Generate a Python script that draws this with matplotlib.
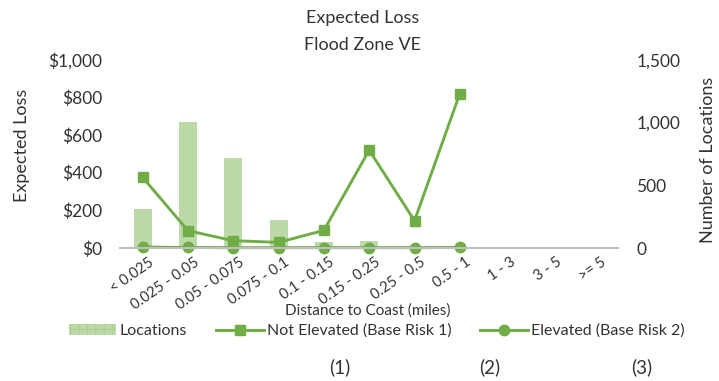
import numpy as np
import matplotlib
matplotlib.use('Agg')
import matplotlib.pyplot as plt
from matplotlib.patches import Patch
from matplotlib.ticker import FuncFormatter

plt.rcParams['font.family'] = ['Lato', 'DejaVu Sans']
plt.rcParams['hatch.linewidth'] = 0.5

# data
categories = ['< 0.025', '0.025 - 0.05', '0.05 - 0.075', '0.075 - 0.1', '0.1 - 0.15',
              '0.15 - 0.25', '0.25 - 0.5', '0.5 - 1', '1 - 3', '3 - 5', '>= 5']
locations = [310, 1005, 720, 223, 50, 58, 15, 8, 0, 0, 0]
not_elevated = [375, 92, 39, 30, 94, 520, 145, 820]
elevated = [5, 3, 2, 2, 2, 2, 2, 3]

green = '#70ad47'
bar_green = '#bcd9a8'
txt = '#333333'

fig = plt.figure(figsize=(7.19, 3.81), dpi=100)
ax = fig.add_axes([0.167, 0.349, 0.693, 0.494])
ax2 = ax.twinx()

x = np.arange(len(categories))
ax2.bar(x, locations, width=0.4, color=bar_green, linewidth=0, zorder=1)
ax2.set_ylim(0, 1500)
ax2.set_yticks([0, 500, 1000, 1500])
ax2.yaxis.set_major_formatter(FuncFormatter(lambda v, p: f'{int(v):,}'))

ax.set_zorder(ax2.get_zorder() + 1)
ax.patch.set_visible(False)
l1, = ax.plot(x[:len(not_elevated)], not_elevated, color=green, lw=2.1, marker='s',
              markersize=7.5)
l2, = ax.plot(x[:len(elevated)], elevated, color=green, lw=2.1, marker='o',
              markersize=7.5, clip_on=False)
ax.set_ylim(0, 1000)
ax.set_yticks([0, 200, 400, 600, 800, 1000])
ax.yaxis.set_major_formatter(FuncFormatter(lambda v, p: f'${int(v):,}'))
ax.set_xlim(-0.5, len(categories) - 0.5)
ax.set_xticks(x + 0.12)
ax.set_xticklabels(categories, rotation=35, ha='right', rotation_mode='anchor',
                   fontsize=10.5, color=txt)

for a in (ax, ax2):
    for s in a.spines.values():
        s.set_visible(False)
    a.tick_params(length=0, colors=txt)
ax.spines['bottom'].set_visible(True)
ax.spines['bottom'].set_color('#bfbfbf')
ax.spines['bottom'].set_linewidth(1.5)
ax.tick_params(axis='y', labelsize=12.5, pad=13)
ax2.tick_params(axis='y', labelsize=12.5, pad=13)
ax.tick_params(axis='x', pad=5)

fig.text(0.504, 1 - 18 / 381, 'Expected Loss', ha='center', va='center', fontsize=13, color=txt)
fig.text(0.504, 1 - 45 / 381, 'Flood Zone VE', ha='center', va='center', fontsize=13, color=txt)
fig.text(22 / 719, 1 - 145 / 381, 'Expected Loss', rotation=90, ha='center', va='center',
         fontsize=13, color=txt)
fig.text(708 / 719, 1 - 160 / 381, 'Number of Locations', rotation=90, ha='center', va='center',
         fontsize=13, color=txt)
fig.text(368 / 719, 1 - 311 / 381, 'Distance to Coast (miles)', ha='center', va='center',
         fontsize=11, color=txt)

loc_handle = Patch(facecolor=bar_green, edgecolor='#a6cc8c', hatch='++', linewidth=0)
fig.legend([loc_handle, l1, l2], ['Locations', 'Not Elevated (Base Risk 1)', 'Elevated (Base Risk 2)'],
           loc='center', bbox_to_anchor=(0.524, 1 - 331 / 381), ncol=3, frameon=False,
           fontsize=11.5, handlelength=3.0, columnspacing=1.8, handletextpad=0.2,
           labelcolor=txt)

for lab, px in [('(1)', 340), ('(2)', 490), ('(3)', 642)]:
    fig.text(px / 719, 1 - 367 / 381, lab, ha='center', va='center', fontsize=13.5, color=txt)

fig.savefig('out.png', dpi=100)
